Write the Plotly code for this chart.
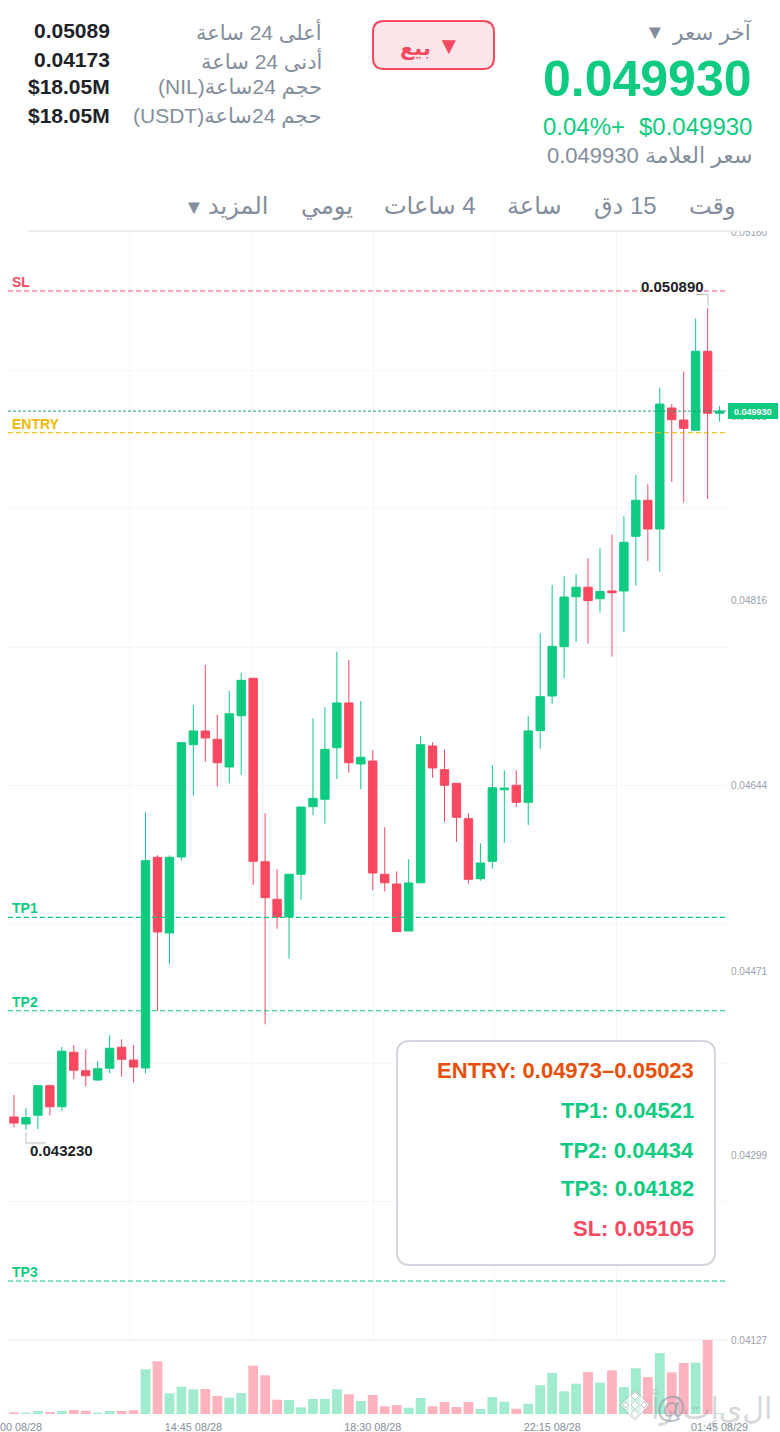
import plotly.graph_objects as go

OPEN = [0.043349,0.043284,0.043365,0.043641,0.043445,0.043952,0.043781,0.043694,0.043803,0.043999,
0.043880,0.043806,0.045770,0.045065,0.045773,0.046820,0.046948,0.046870,0.046612,0.047090,
0.047439,0.045729,0.045379,0.045214,0.045612,0.046242,0.046311,0.046792,0.047209,0.046640,
0.046668,0.045612,0.045521,0.045083,0.045533,0.046808,0.046587,0.046460,0.046130,0.045571,
0.045733,0.046400,0.046442,0.046283,0.046951,0.047274,0.047734,0.048200,0.048288,0.048181,
0.048253,0.048253,0.048763,0.049099,0.048831,0.049959,0.049847,0.049751,0.050488,0.049910]
CLOSE = [0.043293,0.043343,0.043641,0.043445,0.043962,0.043785,0.043734,0.043799,0.043990,0.043887,
0.043815,0.045739,0.045074,0.045770,0.046839,0.046948,0.046883,0.046652,0.047109,0.047420,
0.045733,0.045394,0.045214,0.045612,0.046239,0.046320,0.046777,0.047209,0.046652,0.046703,
0.045624,0.045533,0.045077,0.045531,0.046820,0.046603,0.046442,0.046143,0.045565,0.045717,
0.046419,0.046416,0.046283,0.046948,0.047268,0.047737,0.048197,0.048288,0.048163,0.048248,
0.048237,0.048707,0.049099,0.048831,0.049996,0.049850,0.049770,0.050488,0.049910,0.049930]
HIGH = [0.043554,0.043433,0.043641,0.043654,0.044002,0.044020,0.043980,0.043871,0.044111,0.044073,
0.044020,0.046190,0.045789,0.045789,0.046839,0.047190,0.047563,0.047100,0.047321,0.047491,
0.047439,0.046180,0.045658,0.045612,0.046239,0.047066,0.047169,0.047687,0.047610,0.047227,
0.046768,0.046050,0.045640,0.045752,0.046901,0.046842,0.046777,0.046460,0.046180,0.045901,
0.046628,0.046581,0.046581,0.047088,0.047859,0.048309,0.048390,0.048410,0.048558,0.048651,
0.048778,0.048950,0.049337,0.049248,0.050148,0.049996,0.050298,0.050795,0.050890,0.049978]
LOW = [0.043256,0.043230,0.043237,0.043365,0.043408,0.043703,0.043635,0.043687,0.043756,0.043725,
0.043673,0.043756,0.044337,0.044773,0.045742,0.046345,0.046662,0.046432,0.046460,0.046540,
0.045512,0.044213,0.045105,0.044825,0.045375,0.046162,0.046084,0.046500,0.046559,0.046404,
0.045463,0.045453,0.045077,0.045083,0.045533,0.046512,0.046102,0.045913,0.045524,0.045552,
0.045664,0.045904,0.046239,0.046071,0.046783,0.047202,0.047442,0.047780,0.047762,0.048051,
0.047641,0.047871,0.048303,0.048533,0.048433,0.049269,0.049080,0.049751,0.049111,0.049832]
VOLUME = [1.7,1.3,3,2,3,4,3.3,1.3,3,3,3.7,44.7,52.7,20.7,27.3,24.7,25,18,16.3,21,
48.3,38.7,14.3,14,6.7,15,15,24.7,19.7,13,19,7.7,9,6.3,16,7.7,12,7,12,5,
17,12.3,5.3,10.3,28.7,41,22.7,30.3,42,31.3,43.7,27,45.7,37,61,41.7,51,51.3,74,0.7]

X_TICK_POS = [0, 15, 30, 45, 59]
X_TICK_TEXT = ["11:00 08/28", "14:45 08/28", "18:30 08/28", "22:15 08/28", "01:45 08/29"]
Y_TICKS = [0.05160, 0.04988, 0.04816, 0.04644, 0.04471, 0.04299, 0.04127]
Y_TICK_TEXT = ["0.05160", "0.04988", "0.04816", "0.04644", "0.04471", "0.04299", "0.04127"]
GRID_Y = [0.05031, 0.04902, 0.04773, 0.04644, 0.04515, 0.04385, 0.04256]
GRID_X = [-0.5, 9.64, 19.84, 30.03, 40.16, 50.39]
LEVEL_NAMES = ["SL", "ENTRY", "TP1", "TP2", "TP3"]
LEVEL_VALUES = [0.05105, 0.04973, 0.04521, 0.04434, 0.04182]
LAST_PRICE = 0.04993

W, H = 780, 1432
GREEN, RED, AMBER, ORANGE = "#0ecb81", "#f84960", "#f0b90b", "#e8500a"
GREY, INK = "#848e9c", "#1e2329"
FONT = "Liberation Sans, DejaVu Sans, sans-serif"
GRID = "#f5f6f8"


def px(x):
    return x / W


def py(y):
    return 1 - y / H


def rounded(x0, y0, x1, y1, r):
    a, b, c, d = px(x0), px(x1), py(y0), py(y1)
    rx, ry = r / W, r / H
    return (f"M {a+rx} {c} L {b-rx} {c} Q {b} {c} {b} {c-ry} L {b} {d+ry} Q {b} {d} {b-rx} {d} "
            f"L {a+rx} {d} Q {a} {d} {a} {d+ry} L {a} {c-ry} Q {a} {c} {a+rx} {c} Z")


def diamond(cx, cy, r):
    return (f"M {px(cx)} {py(cy-r)} L {px(cx+r)} {py(cy)} L {px(cx)} {py(cy+r)} L {px(cx-r)} {py(cy)} Z")


idx = list(range(len(OPEN)))
fig = go.Figure()
fig.add_trace(go.Bar(
    x=idx, y=VOLUME, width=0.82, xaxis="x", yaxis="y2", hoverinfo="skip",
    marker=dict(color=["rgba(14,203,129,0.39)" if c >= o else "rgba(252,73,100,0.42)" for o, c in zip(OPEN, CLOSE)], line_width=0),
))
fig.add_trace(go.Candlestick(
    x=idx, open=OPEN, high=HIGH, low=LOW, close=CLOSE, xaxis="x2", yaxis="y", whiskerwidth=0,
    increasing=dict(line=dict(color=GREEN, width=1), fillcolor=GREEN),
    decreasing=dict(line=dict(color=RED, width=1), fillcolor=RED),
))

shapes = []
LEVEL_COLORS = {"SL": "rgba(240,70,95,0.95)", "ENTRY": "rgba(240,185,11,0.85)"}
for name, val in zip(LEVEL_NAMES, LEVEL_VALUES):
    shapes.append(dict(type="line", xref="x2", yref="y", x0=-0.5, x1=59.62, y0=val, y1=val, layer="above",
                       line=dict(color=LEVEL_COLORS.get(name, GREEN), width=1.1, dash="5px,3px")))
shapes.append(dict(type="line", xref="x2", yref="y", x0=-0.5, x1=59.62, y0=LAST_PRICE, y1=LAST_PRICE, layer="above",
                   line=dict(color="rgba(14,150,110,0.9)", width=1, dash="3px,2px")))
# top cover that clips the first price label, header rule and axis rule
shapes.append(dict(type="rect", xref="paper", yref="paper", x0=0, x1=1, y0=py(231), y1=1, layer="above",
                   fillcolor="white", line_width=0))
shapes.append(dict(type="rect", xref="paper", yref="paper", x0=px(28), x1=px(740), y0=py(232), y1=py(230), layer="above",
                   fillcolor="#eaecf1", line_width=0))
shapes.append(dict(type="line", xref="paper", yref="paper", x0=px(8), x1=px(727), y0=py(1340), y1=py(1340), layer="below",
                   line=dict(color="#f1f2f4", width=1.5)))
# price tag
shapes.append(dict(type="rect", xref="paper", yref="paper", x0=px(728), x1=px(778), y0=py(419), y1=py(403), layer="above",
                   fillcolor=GREEN, line_width=0))
# sell button and info box
shapes.append(dict(type="path", xref="paper", yref="paper", path=rounded(373, 21, 494, 69, 11), layer="above",
                   fillcolor="#fde6ea", line=dict(color=RED, width=2)))
shapes.append(dict(type="path", xref="paper", yref="paper", path=rounded(397, 1041, 715, 1265, 13), layer="above",
                   fillcolor="white", line=dict(color="#d2d5dd", width=2)))
# min/max leader lines
shapes.append(dict(type="path", xref="paper", yref="paper",
                   path=f"M {px(696)} {py(294.5)} L {px(708)} {py(294.5)} L {px(708)} {py(306)}", layer="above",
                   line=dict(color="#b9bdc6", width=1)))
shapes.append(dict(type="path", xref="paper", yref="paper",
                   path=f"M {px(26)} {py(1132)} L {px(26)} {py(1143)} L {px(46)} {py(1143)}", layer="above",
                   line=dict(color="#b9bdc6", width=1)))
# watermark logo
shapes.append(dict(type="path", xref="paper", yref="paper", path=diamond(635, 1405, 15), layer="above",
                   fillcolor="rgba(255,255,255,0.55)", line=dict(color="rgba(150,155,165,0.55)", width=1)))
for cx, cy, r in [(635, 1396, 4), (635, 1414, 4), (626, 1405, 3), (644, 1405, 3), (635, 1405, 4)]:
    shapes.append(dict(type="path", xref="paper", yref="paper", path=diamond(cx, cy, r), layer="above",
                       fillcolor="white", line=dict(color="rgba(150,155,165,0.6)", width=0.8)))

annotations = []


def text(s, x, y, size, color, anchor="right", bold=False, opacity=1):
    annotations.append(dict(
        text=f"<b>{s}</b>" if bold else s, xref="paper", yref="paper", x=px(x), y=py(y), showarrow=False,
        xanchor=anchor, yanchor="middle", opacity=opacity, font=dict(family=FONT, size=size, color=color),
        borderpad=0, borderwidth=0))


def rtl(s):
    return "\u202b" + s + "\u202c"


# header – right
text(rtl("آخر سعر"), 752, 32, 21.6, GREY)
text("▼", 665, 32, 20, GREY)
text("0.049930", 752, 79, 50, GREEN, bold=True)
text("0.04%+", 625, 126, 24, GREEN)
text("$0.049930", 752, 126, 24, GREEN)
text(rtl("سعر العلامة 0.049930"), 752, 156, 22, GREY)
# header – left
for label, value, y in [("أعلى 24 ساعة", "0.05089", 32), ("أدنى 24 ساعة", "0.04173", 60),
                        ("حجم 24ساعة(NIL)", "$18.05M", 88), ("حجم 24ساعة(USDT)", "$18.05M", 116)]:
    text(rtl(label), 322, y, 21, GREY)
    text(value, 110, y - 1, 21, INK, bold=True)
# button
text("▼", 461, 45, 24, RED, bold=True)
text(rtl("بيع"), 431, 48, 21, RED, bold=True)
# tabs
for label, x in [("وقت", 736), ("15 دق", 657), ("ساعة", 562), ("4 ساعات", 476), ("يومي", 353), ("المزيد", 268)]:
    text(rtl(label), x, 206, 24, GREY)
text("▼", 204, 207, 20, GREY)
# level labels
text("SL", 12, 282, 14, RED, "left", True)
text("ENTRY", 12, 424, 14, AMBER, "left", True)
text("TP1", 12, 908, 14, GREEN, "left", True)
text("TP2", 12, 1002, 14, GREEN, "left", True)
text("TP3", 12, 1272, 14, GREEN, "left", True)
# extremes
text("0.050890", 704, 286, 15, INK, bold=True)
text("0.043230", 30, 1150.5, 15, INK, "left", True)
# price tag
text("0.049930", 753, 411.5, 9, "white", "center", True)
# info box
text("ENTRY: 0.04973–0.05023", 694, 1070, 22, ORANGE, bold=True)
text("TP1: 0.04521", 694, 1110, 22, GREEN, bold=True)
text("TP2: 0.04434", 694, 1150.5, 22, GREEN, bold=True)
text("TP3: 0.04182", 694, 1188.5, 22, GREEN, bold=True)
text("SL: 0.05105", 694, 1228.5, 22, RED, bold=True)
# watermark
text("@", 686, 1407, 30, "#8d939e", "right", opacity=0.6)
text(rtl("ا\u200cل\u200cي\u200cإ\u200cت\u200cا\u200cر\u200cأ"), 772, 1407, 30, "#8d939e", opacity=0.35)

fig.update_layout(
    width=W, height=H, margin=dict(l=0, r=0, t=0, b=0, autoexpand=False), autosize=False, showlegend=False,
    paper_bgcolor="white", plot_bgcolor="white", boxgap=0, bargap=0.18,
    shapes=shapes, annotations=annotations, font=dict(family=FONT),
    xaxis=dict(domain=[px(8), px(727)], range=[-0.5, 59.62], anchor="y2", tickmode="array",
               tickvals=X_TICK_POS, ticktext=X_TICK_TEXT, showgrid=False, zeroline=False,
               ticks="outside", ticklen=3, tickcolor="rgba(0,0,0,0)", ticklabeloverflow="allow",
               tickangle=0, tickfont=dict(size=10.8, color=GREY, family=FONT)),
    xaxis2=dict(domain=[px(8), px(727)], range=[-0.5, 59.62], anchor="y", tickmode="array",
                tickvals=GRID_X, showticklabels=False, showgrid=True, gridcolor=GRID, gridwidth=1,
                zeroline=False, rangeslider=dict(visible=False)),
    yaxis=dict(domain=[py(1340), py(232)], range=[0.04127, 0.05160], anchor="x2", side="right",
               tickmode="array", tickvals=Y_TICKS, ticktext=Y_TICK_TEXT, showgrid=False, zeroline=False,
               ticks="outside", ticklen=1, tickcolor="rgba(0,0,0,0)", ticklabeloverflow="allow",
               tickfont=dict(size=10, color="#9aa2ad", family=FONT),
               minor=dict(tickmode="array", tickvals=GRID_Y, showgrid=True, gridcolor=GRID, gridwidth=1, ticks="")),
    yaxis2=dict(domain=[py(1414), py(1340)], range=[0, 74], anchor="x", showgrid=False, zeroline=False,
                showticklabels=False),
)

fig.write_html("out.html", config=dict(displayModeBar=False),
               post_script="document.body.style.margin='0';document.documentElement.style.overflow='hidden';")
